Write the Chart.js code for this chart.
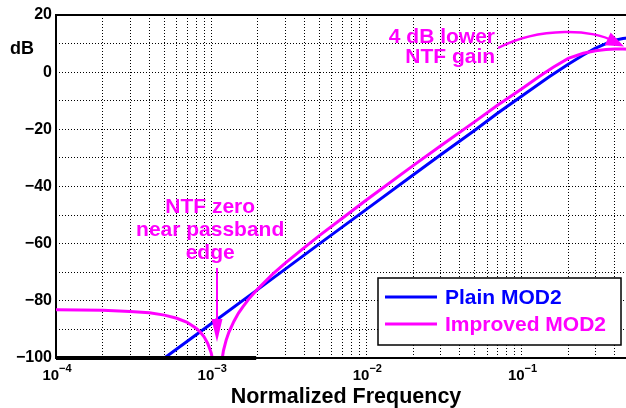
<!DOCTYPE html>
<html>
<head>
<meta charset="utf-8">
<script src="https://cdn.jsdelivr.net/npm/chart.js@4.4.1/dist/chart.umd.min.js"></script>
<style>
  html, body { margin: 0; padding: 0; background: #fff; overflow: hidden; }
  #wrap { width: 634px; height: 408px; }
</style>
</head>
<body>
<div id="wrap"><canvas id="c"></canvas></div>
<script>
// values (x = normalized frequency, y = dB)
const freqPlain = [5e-4, 1e-3, 2e-3, 5e-3, 1e-2, 2e-2, 3e-2, 5e-2, 7e-2, 0.1, 0.15, 0.2, 0.25, 0.3, 0.35, 0.4, 0.45, 0.5];
const dbPlain = [-100, -88, -76, -60, -48, -36, -29, -20.3, -14.4, -8.4, -1.7, 2.8, 6.0, 8.4, 10.0, 11.2, 11.8, 12.0];

const freqImproved = [1e-4, 2e-4, 3e-4, 4e-4, 5e-4, 6e-4, 7e-4, 8e-4, 8.5e-4, 9e-4, 9.5e-4, 1e-3, 1.04e-3, 1.09e-3,
  1.15e-3, 1.2e-3, 1.25e-3, 1.3e-3, 1.4e-3, 1.5e-3, 1.6e-3, 1.75e-3, 2e-3, 2.5e-3, 3e-3, 4e-3, 5e-3, 7e-3, 1e-2,
  2e-2, 3e-2, 5e-2, 7e-2, 0.1, 0.13, 0.16, 0.2, 0.25, 0.3, 0.35, 0.4, 0.45, 0.5];
const dbImproved = [-83.1, -83.3, -83.7, -84.2, -85.0, -86.1, -87.5, -89.6, -90.9, -92.6, -94.9, -98.2, -102.5, -125,
  -103.7, -97.4, -93.7, -91.0, -87.2, -84.3, -82.1, -79.3, -75.8, -70.6, -66.8, -61.3, -57.1, -51.1, -44.7,
  -32.7, -25.8, -17.3, -11.6, -5.9, -1.5, 1.7, 4.8, 6.6, 7.5, 7.9, 8.1, 8.1, 8.0];

// passband marker along the bottom
const freqBand = [1e-4, 1.95e-3];
const dbBand = [-100, -100];

const seriesNames = ["Plain MOD2", "Improved MOD2"];
const xDecades = [1e-4, 1e-3, 1e-2, 1e-1];
const xDecadeExps = ["\u22124", "\u22123", "\u22122", "\u22121"];

const BLUE = "#0000ff";
const MAGENTA = "#ff00ff";
const FONT = '"Liberation Sans", Arial, Helvetica, sans-serif';

const toPts = (xs, ys) => xs.map((x, i) => ({ x: x, y: ys[i] }));

function arrowHead(ctx, tx, ty, fx, fy, len, hw) {
  const ang = Math.atan2(ty - fy, tx - fx);
  const bx = tx - len * Math.cos(ang), by = ty - len * Math.sin(ang);
  ctx.beginPath();
  ctx.moveTo(tx, ty);
  ctx.lineTo(bx + hw * Math.sin(ang), by - hw * Math.cos(ang));
  ctx.lineTo(bx - hw * Math.sin(ang), by + hw * Math.cos(ang));
  ctx.closePath();
  ctx.fill();
}

const frame = {
  id: "frame",
  beforeDatasetsDraw(chart) {
    const { ctx, chartArea: a } = chart;
    ctx.save();
    ctx.strokeStyle = "#000";
    ctx.lineWidth = 2;
    ctx.strokeRect(a.left, a.top, a.right - a.left, a.bottom - a.top);
    ctx.restore();
  }
};

const decor = {
  id: "decor",
  afterDraw(chart) {
    const { ctx, chartArea: a, scales: { x, y } } = chart;
    const px = (f) => x.getPixelForValue(f);
    const py = (d) => y.getPixelForValue(d);
    ctx.save();

    // x tick labels 10^n
    ctx.fillStyle = "#000";
    ctx.textBaseline = "alphabetic";
    ctx.textAlign = "left";
    xDecades.forEach((v, i) => {
      ctx.font = "bold 15px " + FONT;
      const w1 = ctx.measureText("10").width;
      ctx.font = "bold 11px " + FONT;
      const w2 = ctx.measureText(xDecadeExps[i]).width;
      const x0 = px(v) - (w1 + w2) / 2 + 1;
      ctx.font = "bold 15px " + FONT;
      ctx.fillText("10", x0, a.bottom + 22);
      ctx.font = "bold 11px " + FONT;
      ctx.fillText(xDecadeExps[i], x0 + w1, a.bottom + 14);
    });

    // axis titles
    ctx.font = "bold 21.5px " + FONT;
    ctx.textAlign = "center";
    ctx.fillText("Normalized Frequency", (a.left + a.right) / 2 + 3, a.bottom + 45);
    ctx.font = "bold 18px " + FONT;
    ctx.textBaseline = "middle";
    ctx.fillText("dB", 22, py(8));

    // annotations
    ctx.fillStyle = MAGENTA;
    ctx.strokeStyle = MAGENTA;
    ctx.font = "bold 21px " + FONT;
    ctx.textBaseline = "alphabetic";
    ctx.textAlign = "right";
    ctx.fillText("4 dB lower", px(0.0675), py(10.1));
    ctx.fillText("NTF gain", px(0.0675), py(3.2));
    ctx.textAlign = "center";
    ctx.fillText("NTF zero", px(9.85e-4), py(-49.3));
    ctx.fillText("near passband", px(9.85e-4), py(-57.35));
    ctx.fillText("edge", px(9.85e-4), py(-65.4));

    // curved arrow to the gain peak
    const s = [px(0.0706), py(8.45)], c1 = [px(0.1315), py(16.15)],
          c2 = [px(0.2976), py(15.0)], e = [px(0.4576), py(9.0)];
    const dir = [e[0] - 30, e[1] - 14];
    ctx.lineWidth = 2.5;
    ctx.beginPath();
    ctx.moveTo(s[0], s[1]);
    ctx.bezierCurveTo(c1[0], c1[1], c2[0], c2[1], e[0] - 10, e[1] - 4.7);
    ctx.stroke();
    arrowHead(ctx, e[0], e[1], dir[0], dir[1], 18, 7);

    // vertical arrow to the NTF zero
    const ax = px(1.09e-3), ay0 = py(-68.5), ay1 = py(-94.4);
    ctx.lineWidth = 2;
    ctx.beginPath();
    ctx.moveTo(ax, ay0);
    ctx.lineTo(ax, ay1 - 10);
    ctx.stroke();
    arrowHead(ctx, ax, ay1, ax, ay0, 23, 5.5);

    // legend box
    const bw = 243, bh = 67;
    const bl = a.right - 9 - bw, bt = a.bottom - 13 - bh;
    ctx.fillStyle = "#fff";
    ctx.fillRect(bl, bt, bw, bh);
    ctx.strokeStyle = "#000";
    ctx.lineWidth = 1.5;
    ctx.strokeRect(bl, bt, bw, bh);
    const cols = [BLUE, MAGENTA];
    ctx.font = "bold 21px " + FONT;
    ctx.textAlign = "left";
    ctx.textBaseline = "middle";
    seriesNames.forEach((n, i) => {
      const yy = bt + 19 + i * 27;
      ctx.strokeStyle = cols[i];
      ctx.lineWidth = 3;
      ctx.beginPath();
      ctx.moveTo(bl + 7, yy);
      ctx.lineTo(bl + 59, yy);
      ctx.stroke();
      ctx.fillStyle = cols[i];
      ctx.fillText(n, bl + 67, yy + 1);
    });

    ctx.restore();
  }
};

const ctx = document.getElementById("c").getContext("2d");
new Chart(ctx, {
  type: "line",
  data: {
    datasets: [
      {
        label: "band",
        data: toPts(freqBand, dbBand),
        borderColor: "#000",
        borderWidth: 4,
        pointRadius: 0,
        clip: 4,
      },
      {
        label: seriesNames[1],
        data: toPts(freqImproved, dbImproved),
        borderColor: MAGENTA,
        borderWidth: 3,
        pointRadius: 0,
        tension: 0,
        fill: false,
      },
      {
        label: seriesNames[0],
        data: toPts(freqPlain, dbPlain),
        borderColor: BLUE,
        borderWidth: 3,
        pointRadius: 0,
        tension: 0,
        fill: false,
      },
    ],
  },
  options: {
    responsive: true,
    maintainAspectRatio: false,
    animation: false,
    events: [],
    layout: { padding: { top: 15, right: 4, left: 0, bottom: 0 } },
    plugins: {
      legend: { display: false },
      tooltip: { enabled: false },
    },
    scales: {
      x: {
        type: "logarithmic",
        min: 1e-4,
        max: 0.5,
        afterBuildTicks(scale) {
          const t = [];
          for (let e = -4; e <= -1; e++) {
            for (let m = 1; m <= 9; m++) {
              const v = m * Math.pow(10, e);
              if (v <= 0.5) t.push({ value: v });
            }
          }
          scale.ticks = t;
        },
        afterFit(scale) { scale.height = 50; },
        ticks: { display: false },
        grid: { color: "#000", lineWidth: 1, drawTicks: false },
        border: { display: false, dash: [1, 2] },
      },
      y: {
        min: -100,
        max: 20,
        afterFit(scale) { scale.width = 56; },
        ticks: {
          stepSize: 10,
          padding: 4,
          color: "#000",
          font: { family: FONT, size: 16, weight: "bold" },
          callback: (v) => (v % 20 === 0 ? (v < 0 ? "\u2212" + Math.abs(v) : String(v)) : ""),
        },
        grid: { color: "#000", lineWidth: 1, drawTicks: false },
        border: { display: false, dash: [1, 2] },
      },
    },
  },
  plugins: [frame, decor],
});
</script>
</body>
</html>
